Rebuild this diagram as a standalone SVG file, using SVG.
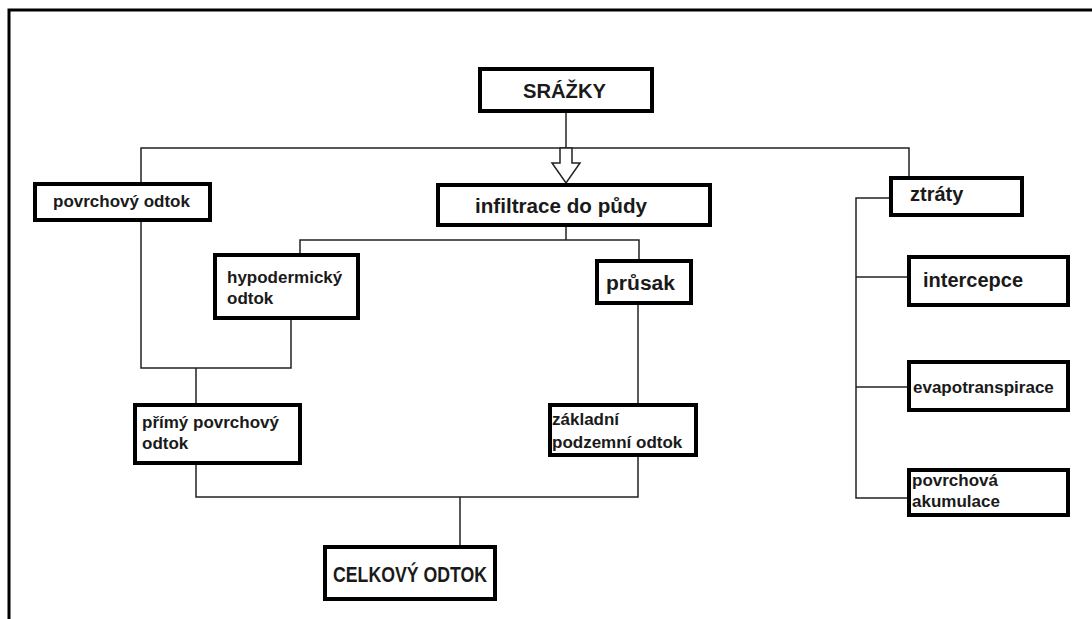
<svg xmlns="http://www.w3.org/2000/svg" width="1092" height="619" viewBox="0 0 1092 619">
<style>
.box{fill:#fff;stroke:#000;stroke-width:4}
.c{fill:none;stroke:#222;stroke-width:1.5}
text{font-family:"Liberation Sans",Arial,sans-serif;font-weight:bold;fill:#1a1a1a}
.s17{font-size:17px}
.s20{font-size:20px}
.s22{font-size:22px}
</style>
<rect width="1092" height="619" fill="#fff"/>
<path d="M9 619 V10 H1092" fill="none" stroke="#000" stroke-width="3"/>
<g id="connectors">
<path class="c" d="M566 113 V148"/>
<path class="c" d="M141 182 V148 H909 V176"/>
<path d="M560 148 V163 H552 L566 183 L580 163 H572 V148 Z" fill="#fff" stroke="#222" stroke-width="1.5"/>
<path class="c" d="M566 227 V240"/>
<path class="c" d="M300 253 V240 H639 V259"/>
<path class="c" d="M141 222 V368 H291 V320"/>
<path class="c" d="M196 368 V403"/>
<path class="c" d="M638 305 V403"/>
<path class="c" d="M196 465 V497 H638 V457"/>
<path class="c" d="M460 497 V545"/>
<path class="c" d="M889 198 H856 V498 H907"/>
<path class="c" d="M856 277 H907"/>
<path class="c" d="M856 387 H907"/>
</g>
<g id="srazky"><rect class="box" x="480" y="69" width="172" height="42"/><text class="s20" x="523" y="98" textLength="83" lengthAdjust="spacingAndGlyphs">SRÁŽKY</text></g>
<g id="povrchovy"><rect class="box" x="35" y="184" width="175" height="36"/><text class="s17" x="53" y="207">povrchový odtok</text></g>
<g id="infiltrace"><rect class="box" x="438" y="185" width="272" height="40"/><text class="s20" x="475" y="213" textLength="172" lengthAdjust="spacingAndGlyphs">infiltrace do půdy</text></g>
<g id="ztraty"><rect class="box" x="891" y="178" width="131" height="37"/><text class="s20" x="910" y="201">ztráty</text></g>
<g id="hypodermicky"><rect class="box" x="215" y="255" width="143" height="63"/><text class="s17" x="227" y="283">hypodermický</text><text class="s17" x="227" y="304">odtok</text></g>
<g id="prusak"><rect class="box" x="597" y="261" width="94" height="42"/><text class="s20" x="606" y="290" textLength="69" lengthAdjust="spacingAndGlyphs">průsak</text></g>
<g id="intercepce"><rect class="box" x="909" y="257" width="159" height="48"/><text class="s20" x="923" y="287">intercepce</text></g>
<g id="evapotranspirace"><rect class="box" x="909" y="362" width="159" height="48"/><text class="s17" x="913" y="393">evapotranspirace</text></g>
<g id="akumulace"><rect class="box" x="909" y="470" width="159" height="45"/><text class="s17" x="912" y="486">povrchová</text><text class="s17" x="912" y="507">akumulace</text></g>
<g id="primy"><rect class="box" x="135" y="405" width="165" height="58"/><text class="s17" x="142" y="428">přímý povrchový</text><text class="s17" x="142" y="449">odtok</text></g>
<g id="zakladni"><rect class="box" x="550" y="405" width="146" height="50"/><text class="s17" x="552" y="425">základní</text><text class="s17" x="552" y="448">podzemní odtok</text></g>
<g id="celkovy"><rect class="box" x="325" y="547" width="170" height="52"/><text class="s22" x="333" y="582" textLength="154" lengthAdjust="spacingAndGlyphs">CELKOVÝ ODTOK</text></g>
</svg>
